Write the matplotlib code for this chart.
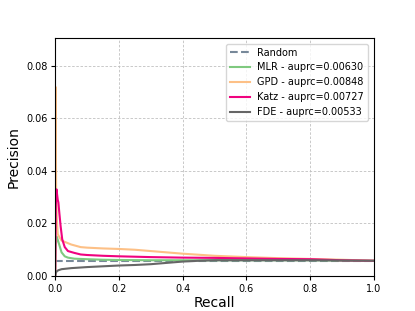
import numpy as np
import matplotlib
matplotlib.use('Agg')
import matplotlib.pyplot as plt

# valori
random_prec = 0.0058

mlr_recall = [0.0, 0.002, 0.005, 0.01, 0.015, 0.02, 0.03, 0.04, 0.06, 0.1, 0.15, 0.2, 0.3, 0.4, 0.5, 0.6, 0.7, 0.8, 0.9, 1.0]
mlr_prec = [0.0, 0.012, 0.015, 0.013, 0.011, 0.009, 0.0075, 0.007, 0.0066, 0.0064, 0.0062, 0.0061, 0.006, 0.006, 0.006, 0.006, 0.006, 0.006, 0.0059, 0.0058]

gpd_recall = [0.0, 0.001, 0.002, 0.003, 0.005, 0.008, 0.012, 0.02, 0.03, 0.05, 0.08, 0.1, 0.15, 0.2, 0.25, 0.3, 0.35, 0.4, 0.5, 0.6, 0.7, 0.8, 0.9, 1.0]
gpd_prec = [0.0, 0.072, 0.05, 0.033, 0.022, 0.016, 0.015, 0.0135, 0.013, 0.012, 0.011, 0.0108, 0.0105, 0.0103, 0.01, 0.0095, 0.009, 0.0085, 0.0077, 0.0072, 0.0068, 0.0065, 0.0062, 0.0058]

katz_recall = [0.0, 0.002, 0.004, 0.006, 0.008, 0.01, 0.013, 0.017, 0.022, 0.03, 0.04, 0.06, 0.08, 0.1, 0.15, 0.2, 0.3, 0.4, 0.5, 0.6, 0.7, 0.8, 0.9, 1.0]
katz_prec = [0.0, 0.027, 0.033, 0.031, 0.029, 0.028, 0.024, 0.019, 0.014, 0.011, 0.0095, 0.0088, 0.0082, 0.008, 0.0077, 0.0075, 0.0072, 0.007, 0.0069, 0.0067, 0.0065, 0.0064, 0.006, 0.0058]

fde_recall = [0.0, 0.002, 0.005, 0.01, 0.02, 0.05, 0.1, 0.15, 0.2, 0.25, 0.3, 0.35, 0.4, 0.45, 0.5, 0.6, 0.7, 0.8, 0.9, 1.0]
fde_prec = [0.0, 0.0012, 0.0018, 0.0022, 0.0026, 0.003, 0.0034, 0.0037, 0.004, 0.0042, 0.0045, 0.005, 0.0055, 0.0058, 0.006, 0.006, 0.006, 0.006, 0.0059, 0.0058]

fig = plt.figure(figsize=(4.15, 3.11), dpi=100)
ax = fig.add_axes([0.133, 0.1125, 0.768, 0.766])

ax.plot([0, 1], [random_prec, random_prec], linestyle='--', color='#778899', linewidth=1.5, label='Random')
ax.plot(mlr_recall, mlr_prec, color='#7fc97f', linewidth=1.5, label='MLR - auprc=0.00630')
ax.plot(gpd_recall, gpd_prec, color='#fdc086', linewidth=1.5, label='GPD - auprc=0.00848')
ax.plot(katz_recall, katz_prec, color='#f0027f', linewidth=1.5, label='Katz - auprc=0.00727')
ax.plot(fde_recall, fde_prec, color='#666666', linewidth=1.5, label='FDE - auprc=0.00533')

ax.set_xlim(0, 1)
ax.set_ylim(0, 0.0907)
ax.set_xticks([0.0, 0.2, 0.4, 0.6, 0.8, 1.0])
ax.set_yticks([0.0, 0.02, 0.04, 0.06, 0.08])
ax.set_yticklabels(['0.00', '0.02', '0.04', '0.06', '0.08'])
ax.tick_params(labelsize=7, length=3, pad=2.5)
ax.grid(True, linestyle=(0, (3, 2)), color='#c0c0c0', linewidth=0.6)
ax.set_xlabel('Recall', fontsize=10, labelpad=2)
ax.set_ylabel('Precision', fontsize=10, labelpad=4)
ax.legend(loc='upper right', fontsize=7, borderaxespad=0.6)

fig.savefig('out.png', dpi=100)
